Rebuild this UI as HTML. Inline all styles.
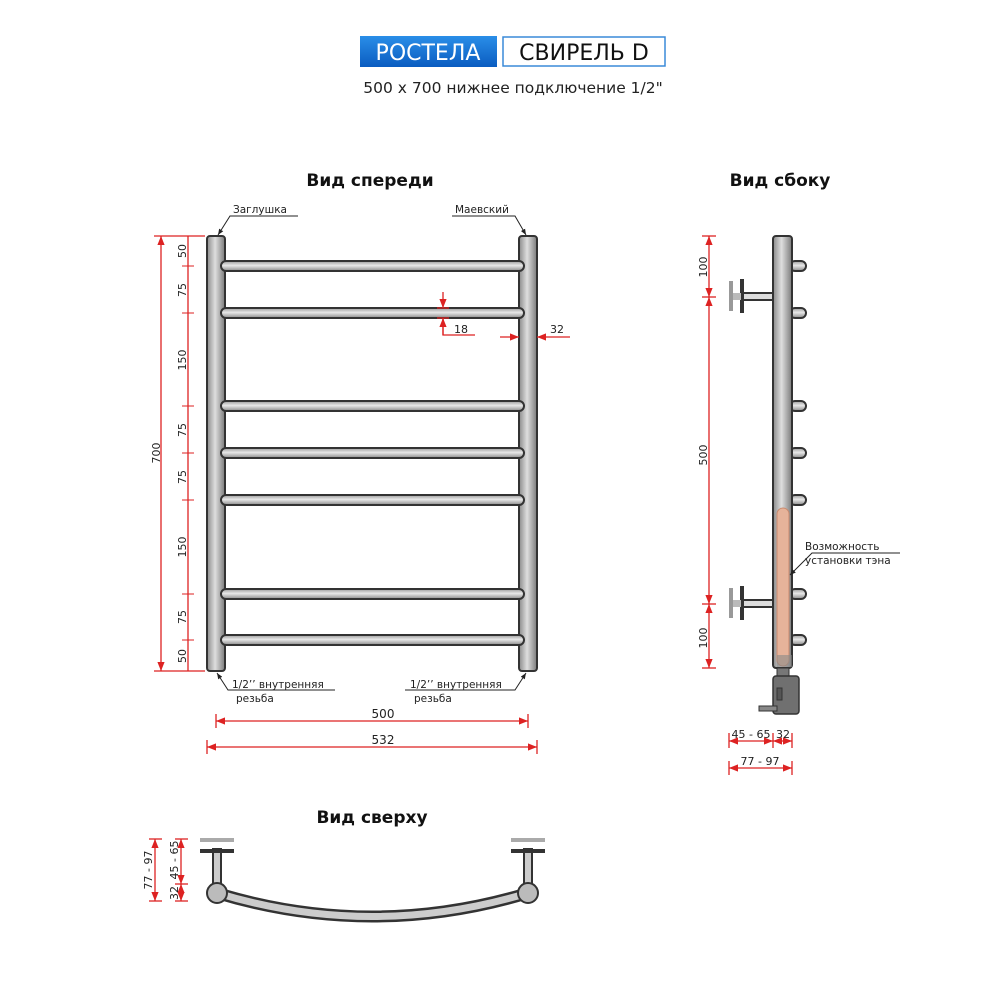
<!DOCTYPE html><html><head><meta charset="utf-8"><style>body{margin:0;background:#fff}svg{display:block}text{font-family:"DejaVu Sans","Liberation Sans",sans-serif}</style></head><body>
<svg width="1000" height="1000" viewBox="0 0 1000 1000" xmlns="http://www.w3.org/2000/svg">
<defs>
<linearGradient id="pv" x1="0" x2="1"><stop offset="0" stop-color="#8a8a8a"/><stop offset=".45" stop-color="#dedede"/><stop offset="1" stop-color="#7a7a7a"/></linearGradient>
<linearGradient id="ph" x1="0" x2="0" y1="0" y2="1"><stop offset="0" stop-color="#9a9a9a"/><stop offset=".45" stop-color="#e8e8e8"/><stop offset="1" stop-color="#8a8a8a"/></linearGradient>
<linearGradient id="bl" x1="0" x2="0" y1="0" y2="1"><stop offset="0" stop-color="#2a8ee8"/><stop offset="1" stop-color="#0a5cc0"/></linearGradient>
<marker id="a" viewBox="0 0 10 10" refX="10" refY="5" markerWidth="7" markerHeight="7" orient="auto-start-reverse"><path d="M0,1L10,5L0,9z" fill="#d22"/></marker>
<marker id="k" viewBox="0 0 10 10" refX="10" refY="5" markerWidth="6" markerHeight="6" orient="auto"><path d="M0,1L10,5L0,9z" fill="#222"/></marker>
</defs>
<!-- header -->
<rect x="360" y="36" width="137" height="31" fill="url(#bl)"/>
<text x="428" y="60" font-size="22" fill="#fff" text-anchor="middle" font-family="Liberation Sans">РОСТЕЛА</text>
<rect x="503" y="37" width="162" height="29" fill="#fff" stroke="#3a8ad8" stroke-width="1.5"/>
<text x="584" y="60" font-size="22" fill="#111" text-anchor="middle" font-family="Liberation Sans">СВИРЕЛЬ D</text>
<text x="513" y="93" font-size="15.5" fill="#222" text-anchor="middle">500 x 700 нижнее подключение 1/2"</text>
<text x="370" y="186" font-size="17" fill="#111" text-anchor="middle" font-weight="bold">Вид спереди</text>
<text x="780" y="186" font-size="17" fill="#111" text-anchor="middle" font-weight="bold">Вид сбоку</text>
<text x="372" y="823" font-size="17" fill="#111" text-anchor="middle" font-weight="bold">Вид сверху</text>

<!-- front view -->
<g stroke="#333" stroke-width="2">
<rect x="207" y="236" width="18" height="435" rx="3" fill="url(#pv)"/>
<rect x="519" y="236" width="18" height="435" rx="3" fill="url(#pv)"/>
<g fill="url(#ph)">
<rect x="221" y="261" width="303" height="10" rx="5"/><rect x="221" y="308" width="303" height="10" rx="5"/>
<rect x="221" y="401" width="303" height="10" rx="5"/><rect x="221" y="448" width="303" height="10" rx="5"/>
<rect x="221" y="495" width="303" height="10" rx="5"/><rect x="221" y="589" width="303" height="10" rx="5"/>
<rect x="221" y="635" width="303" height="10" rx="5"/>
</g>
</g>
<g stroke="#d22" stroke-width="1.3" fill="none">
<line x1="161" y1="236" x2="161" y2="671" marker-start="url(#a)" marker-end="url(#a)"/>
<line x1="154" y1="236" x2="205" y2="236"/><line x1="154" y1="671" x2="205" y2="671"/>
<line x1="188" y1="236" x2="188" y2="671"/>
<g stroke-width="1"><line x1="182" y1="266" x2="194" y2="266"/><line x1="182" y1="313" x2="194" y2="313"/><line x1="182" y1="406" x2="194" y2="406"/><line x1="182" y1="453" x2="194" y2="453"/><line x1="182" y1="500" x2="194" y2="500"/><line x1="182" y1="594" x2="194" y2="594"/><line x1="182" y1="640" x2="194" y2="640"/></g>
<line x1="443" y1="292" x2="443" y2="308" marker-end="url(#a)"/>
<line x1="443" y1="335" x2="443" y2="318" marker-end="url(#a)"/>
<polyline points="443,318 443,335 475,335"/>
<line x1="437" y1="308" x2="449" y2="308"/><line x1="437" y1="318" x2="449" y2="318"/>
<line x1="500" y1="337" x2="519" y2="337" marker-end="url(#a)"/>
<line x1="570" y1="337" x2="537" y2="337" marker-end="url(#a)"/>
<line x1="216" y1="721" x2="528" y2="721" marker-start="url(#a)" marker-end="url(#a)"/>
<line x1="216" y1="714" x2="216" y2="728"/><line x1="528" y1="714" x2="528" y2="728"/>
<line x1="207" y1="747" x2="537" y2="747" marker-start="url(#a)" marker-end="url(#a)"/>
<line x1="207" y1="740" x2="207" y2="754"/><line x1="537" y1="740" x2="537" y2="754"/>
</g>
<g font-size="11" fill="#222" text-anchor="middle">
<text transform="translate(160,453) rotate(-90)">700</text>
<text transform="translate(186,251) rotate(-90)">50</text>
<text transform="translate(186,290) rotate(-90)">75</text>
<text transform="translate(186,360) rotate(-90)">150</text>
<text transform="translate(186,430) rotate(-90)">75</text>
<text transform="translate(186,477) rotate(-90)">75</text>
<text transform="translate(186,547) rotate(-90)">150</text>
<text transform="translate(186,617) rotate(-90)">75</text>
<text transform="translate(186,656) rotate(-90)">50</text>
<text x="461" y="333">18</text><text x="557" y="333">32</text>
<text x="383" y="718" font-size="12">500</text><text x="383" y="744" font-size="12">532</text>
</g>
<g font-size="10.5" fill="#222" stroke="none">
<text x="233" y="213">Заглушка</text><text x="455" y="213">Маевский</text>
<text x="232" y="688">1/2’’ внутренняя</text><text x="236" y="702">резьба</text>
<text x="410" y="688">1/2’’ внутренняя</text><text x="414" y="702">резьба</text>
</g>
<g stroke="#222" stroke-width="1" fill="none">
<polyline points="298,216 230,216 218,235" marker-end="url(#k)"/>
<polyline points="452,216 515,216 526,235" marker-end="url(#k)"/>
<polyline points="335,690 228,690 217,673" marker-end="url(#k)"/>
<polyline points="405,690 515,690 526,673" marker-end="url(#k)"/>
</g>

<!-- side view -->
<g stroke="#333" stroke-width="2">
<g fill="url(#ph)">
<rect x="790" y="261" width="16" height="10" rx="5"/><rect x="790" y="308" width="16" height="10" rx="5"/>
<rect x="790" y="401" width="16" height="10" rx="5"/><rect x="790" y="448" width="16" height="10" rx="5"/>
<rect x="790" y="495" width="16" height="10" rx="5"/><rect x="790" y="589" width="16" height="10" rx="5"/>
<rect x="790" y="635" width="16" height="10" rx="5"/>
<rect x="743" y="293" width="31" height="7" fill="#ddd"/><rect x="743" y="600" width="31" height="7" fill="#ddd"/>
</g>
<rect x="773" y="236" width="19" height="432" rx="3" fill="url(#pv)"/>
</g>
<rect x="729" y="281" width="4" height="30" fill="#999"/><rect x="729" y="588" width="4" height="30" fill="#999"/>
<rect x="740" y="279" width="4" height="34" fill="#333"/><rect x="740" y="586" width="4" height="34" fill="#333"/>
<rect x="733" y="293" width="8" height="7" fill="#bbb"/><rect x="733" y="600" width="8" height="7" fill="#bbb"/>
<rect x="777" y="508" width="12" height="158" rx="6" fill="#e6b39a" stroke="#c98a6e" stroke-width="1"/>
<rect x="777" y="655" width="15" height="12" fill="#888" opacity=".6"/>
<rect x="777" y="668" width="12" height="8" fill="#777" stroke="#333"/>
<rect x="773" y="676" width="26" height="38" rx="3" fill="#707070" stroke="#333" stroke-width="1.5"/>
<rect x="777" y="688" width="5" height="12" fill="#555" stroke="#333"/>
<rect x="759" y="706" width="18" height="5" fill="#888" stroke="#333"/>
<g stroke="#222" stroke-width="1" fill="none"><polyline points="900,553 812,553 790,575" marker-end="url(#k)"/></g>
<g font-size="10.5" fill="#222"><text x="805" y="550">Возможность</text><text x="805" y="564">установки тэна</text></g>
<g stroke="#d22" stroke-width="1.3" fill="none">
<line x1="709" y1="236" x2="709" y2="297" marker-start="url(#a)" marker-end="url(#a)"/>
<line x1="709" y1="297" x2="709" y2="604" marker-start="url(#a)" marker-end="url(#a)"/>
<line x1="709" y1="604" x2="709" y2="668" marker-start="url(#a)" marker-end="url(#a)"/>
<line x1="702" y1="236" x2="716" y2="236"/><line x1="702" y1="297" x2="716" y2="297"/><line x1="702" y1="604" x2="716" y2="604"/><line x1="702" y1="668" x2="716" y2="668"/>
<line x1="729" y1="741" x2="773" y2="741" marker-start="url(#a)" marker-end="url(#a)"/>
<line x1="773" y1="741" x2="792" y2="741" marker-start="url(#a)" marker-end="url(#a)"/>
<line x1="729" y1="733" x2="729" y2="748"/><line x1="773" y1="733" x2="773" y2="748"/><line x1="792" y1="733" x2="792" y2="748"/>
<line x1="729" y1="768" x2="792" y2="768" marker-start="url(#a)" marker-end="url(#a)"/>
<line x1="729" y1="761" x2="729" y2="775"/><line x1="792" y1="761" x2="792" y2="775"/>
</g>
<g font-size="11" fill="#222" text-anchor="middle">
<text transform="translate(707,267) rotate(-90)">100</text>
<text transform="translate(707,455) rotate(-90)">500</text>
<text transform="translate(707,638) rotate(-90)">100</text>
<text x="751" y="738">45 - 65</text><text x="783" y="738">32</text>
<text x="760" y="765">77 - 97</text>
</g>

<!-- top view -->
<g stroke="#333" stroke-width="2">
<path d="M217,893 Q372,940 528,893" fill="none" stroke="#333" stroke-width="12"/>
<path d="M217,893 Q372,940 528,893" fill="none" stroke="#ccc" stroke-width="7"/>
<rect x="213" y="849" width="8" height="36" fill="#ccc"/><rect x="524" y="849" width="8" height="36" fill="#ccc"/>
<circle cx="217" cy="893" r="10" fill="#bbb"/><circle cx="528" cy="893" r="10" fill="#bbb"/>
</g>
<rect x="200" y="838" width="34" height="4" fill="#aaa"/><rect x="511" y="838" width="34" height="4" fill="#aaa"/>
<rect x="200" y="849" width="34" height="4" fill="#333"/><rect x="511" y="849" width="34" height="4" fill="#333"/>
<g stroke="#d22" stroke-width="1.3" fill="none">
<line x1="155" y1="839" x2="155" y2="901" marker-start="url(#a)" marker-end="url(#a)"/>
<line x1="149" y1="839" x2="162" y2="839"/><line x1="149" y1="901" x2="162" y2="901"/>
<line x1="181" y1="839" x2="181" y2="884" marker-start="url(#a)" marker-end="url(#a)"/>
<line x1="181" y1="884" x2="181" y2="901" marker-start="url(#a)" marker-end="url(#a)"/>
<line x1="175" y1="839" x2="188" y2="839"/><line x1="175" y1="884" x2="188" y2="884"/><line x1="175" y1="901" x2="188" y2="901"/>
</g>
<g font-size="11" fill="#222" text-anchor="middle">
<text transform="translate(152,870) rotate(-90)">77 - 97</text>
<text transform="translate(178,860) rotate(-90)">45 - 65</text>
<text transform="translate(178,893) rotate(-90)">32</text>
</g>
</svg>
</body></html>
